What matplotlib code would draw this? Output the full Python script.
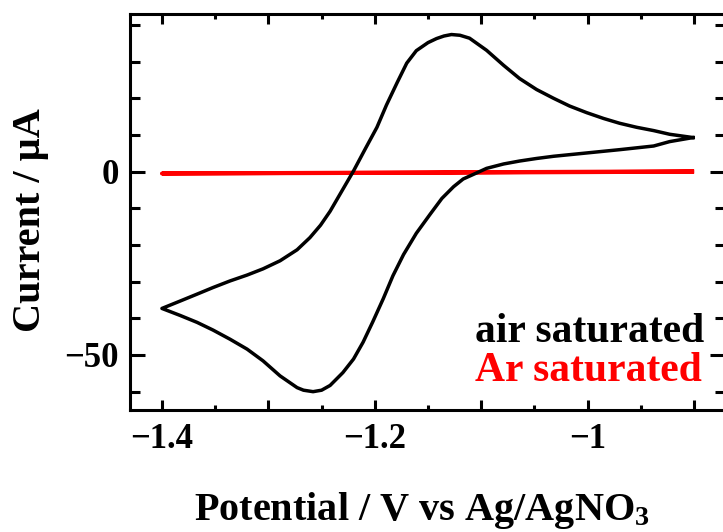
import matplotlib
matplotlib.use("Agg")
import matplotlib.pyplot as plt
from matplotlib.ticker import MultipleLocator, FuncFormatter

plt.rcParams['font.family'] = 'Liberation Serif'
plt.rcParams['font.weight'] = 'bold'
plt.rcParams['mathtext.fontset'] = 'custom'
plt.rcParams['mathtext.rm'] = 'Liberation Serif:bold'
plt.rcParams['mathtext.default'] = 'rm'

# air saturated CV: cathodic sweep from -0.9 V down to -1.4 V
air_fwd_potential = [-0.901, -0.923, -0.938, -0.970, -1.001, -1.032, -1.048, -1.064, -1.079,
                     -1.095, -1.104, -1.117, -1.126, -1.137, -1.148, -1.161, -1.173, -1.183,
                     -1.192, -1.202, -1.211, -1.220, -1.230, -1.242, -1.250, -1.258, -1.267,
                     -1.273, -1.289, -1.305, -1.320, -1.336, -1.352, -1.367, -1.383, -1.400]
air_fwd_current = [9.3, 8.2, 7.0, 6.0, 5.1, 4.2, 3.6, 2.9, 2.1,
                   0.9, -0.3, -2.0, -4.1, -7.3, -11.6, -16.8, -22.6, -28.4,
                   -34.6, -41.0, -46.5, -51.1, -54.8, -58.3, -59.6, -60.0, -59.6,
                   -58.9, -55.7, -51.6, -48.4, -45.7, -43.2, -41.1, -39.2, -37.3]
# anodic sweep back from -1.4 V to -0.9 V
air_rev_potential = [-1.400, -1.383, -1.367, -1.352, -1.336, -1.320, -1.305, -1.289, -1.273,
                     -1.261, -1.251, -1.242, -1.233, -1.220, -1.209, -1.198, -1.189, -1.179,
                     -1.170, -1.161, -1.150, -1.142, -1.135, -1.128, -1.120, -1.111, -1.095,
                     -1.079, -1.064, -1.048, -1.032, -1.017, -1.001, -0.985, -0.970, -0.954,
                     -0.938, -0.923, -0.901]
air_rev_current = [-37.3, -35.3, -33.4, -31.6, -29.8, -28.2, -26.5, -24.3, -21.3,
                   -18.0, -14.6, -10.8, -6.3, 0.2, 6.2, 12.1, 18.2, 24.3,
                   29.6, 33.0, 35.2, 36.3, 37.0, 37.4, 37.2, 36.4, 33.1,
                   29.0, 25.4, 22.4, 20.0, 17.9, 16.1, 14.5, 13.2, 12.1,
                   11.2, 10.2, 9.3]

# Ar saturated CV (almost flat)
ar_potential = [-0.90, -1.15, -1.40, -1.15, -0.90]
ar_current = [0.0, -0.3, -0.5, -0.2, 0.1]

fig = plt.figure(figsize=(7.23, 5.32), dpi=100)
ax = fig.add_axes([130 / 723, 1 - 410 / 532, 595 / 723, 396 / 532])

ax.plot(ar_potential, ar_current, color='#ff0000', lw=2.9, solid_capstyle='butt')
ax.plot(air_fwd_potential + air_rev_potential[1:], air_fwd_current + air_rev_current[1:],
        color='black', lw=2.5, solid_joinstyle='round')

ax.set_xlim(-1.43, -0.871)
ax.set_ylim(-65, 43)

ax.xaxis.set_major_locator(MultipleLocator(0.1))
ax.xaxis.set_minor_locator(MultipleLocator(0.05))
ax.xaxis.set_major_formatter(FuncFormatter(
    lambda v, p: ('\u2212%g' % abs(round(v, 1)) if round(v * 10) % 2 == 0 else '')))
ax.yaxis.set_major_locator(MultipleLocator(50))
ax.yaxis.set_minor_locator(MultipleLocator(10))
ax.yaxis.set_major_formatter(FuncFormatter(
    lambda v, p: ('\u2212%d' % abs(v) if v < 0 else '%d' % v)))

ax.tick_params(axis='x', which='major', direction='in', length=7.2, width=2.2,
               top=True, labelsize=25, pad=9)
ax.tick_params(axis='x', which='minor', direction='in', length=3.6, width=2.2, top=True)
ax.tick_params(axis='y', which='major', direction='in', length=10.8, width=2.2,
               right=True, labelsize=25, pad=8)
ax.tick_params(axis='y', which='minor', direction='in', length=7.2, width=2.2, right=True)
for s in ax.spines.values():
    s.set_linewidth(2.2)

fig.text(421.5 / 723, 1 - 520 / 532, r'Potential / V vs Ag/AgNO$_3$',
         fontsize=29, ha='center', va='baseline')
fig.text(31 / 723, 1 - 220 / 532, 'Current / \u00b5A', fontsize=29,
         rotation=90, ha='center', va='center')

ax.text(0.580, 0.1717, 'air saturated', transform=ax.transAxes, fontsize=30,
        color='black', ha='left', va='baseline')
ax.text(0.580, 0.0732, 'Ar saturated', transform=ax.transAxes, fontsize=30,
        color='#ff0000', ha='left', va='baseline')

fig.savefig('out.png', dpi=100)
